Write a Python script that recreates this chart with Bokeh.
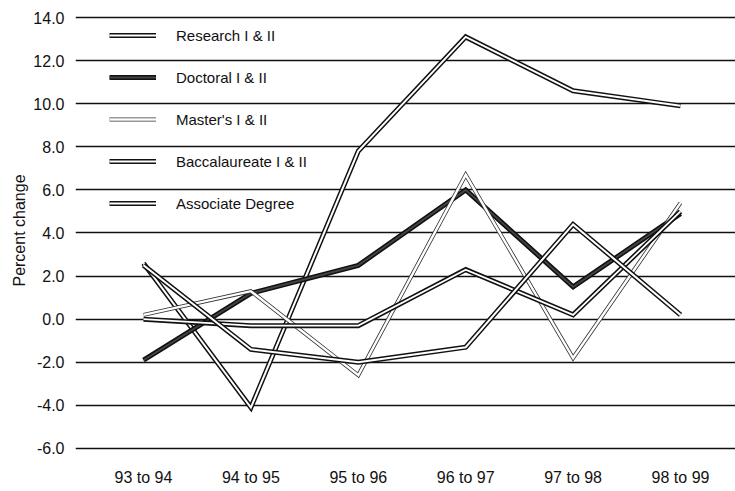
from bokeh.plotting import figure
from bokeh.models import Range1d, FixedTicker, Legend, LegendItem
from bokeh.embed import file_html
from bokeh.resources import INLINE

periods = ["93 to 94", "94 to 95", "95 to 96", "96 to 97", "97 to 98", "98 to 99"]
research = [2.6, -4.1, 7.8, 13.1, 10.6, 9.9]
doctoral = [-1.9, 1.2, 2.5, 6.0, 1.5, 4.9]
masters = [0.2, 1.3, -2.6, 6.7, -1.8, 5.4]
baccalaureate = [0.0, -0.3, -0.3, 2.3, 0.2, 5.0]
associate = [2.5, -1.4, -2.0, -1.3, 4.4, 0.2]
series_names = ["Research I & II", "Doctoral I & II", "Master's I & II",
                "Baccalaureate I & II", "Associate Degree"]
y_ticks = [-6, -4, -2, 0, 2, 4, 6, 8, 10, 12, 14]

FONT = "Liberation Sans"
xs = list(range(len(periods)))

p = figure(width=735, height=491, output_backend="svg", toolbar_location=None,
           x_range=Range1d(-0.633, 5.512), y_range=Range1d(-6.093, 14.325),
           min_border_left=75, min_border_right=0, min_border_top=10,
           min_border_bottom=41)
p.outline_line_color = None
p.background_fill_color = "white"

p.xgrid.grid_line_color = None
p.ygrid.grid_line_color = "#111111"
p.ygrid.grid_line_width = 1.6
p.ygrid.ticker = FixedTicker(ticks=y_ticks)

p.yaxis.ticker = FixedTicker(ticks=y_ticks)
p.yaxis.major_label_overrides = {t: f"{t:.1f}" for t in y_ticks}
p.yaxis.axis_line_color = None
p.yaxis.major_tick_line_color = None
p.yaxis.minor_tick_line_color = None
p.yaxis.major_label_standoff = 5
p.yaxis.major_label_text_font = FONT
p.yaxis.major_label_text_font_size = "16px"
p.yaxis.major_label_text_color = "#111111"
p.yaxis.axis_label = "Percent change"
p.yaxis.axis_label_text_font = FONT
p.yaxis.axis_label_text_font_size = "16px"
p.yaxis.axis_label_text_font_style = "normal"
p.yaxis.axis_label_text_color = "#111111"
p.yaxis.axis_label_standoff = 2

p.xaxis.ticker = FixedTicker(ticks=xs)
p.xaxis.major_label_overrides = {i: lab for i, lab in zip(xs, periods)}
p.xaxis.axis_line_color = None
p.xaxis.major_tick_line_color = None
p.xaxis.minor_tick_line_color = None
p.xaxis.major_label_standoff = 12
p.xaxis.major_label_text_font = FONT
p.xaxis.major_label_text_font_size = "16px"
p.xaxis.major_label_text_color = "#111111"

styles = [
    ("#111111", 5.0, "white", 2.0),
    ("#111111", 5.0, "#444444", 1.8),
    ("#333333", 4.0, "white", 2.4),
    ("#111111", 5.0, "white", 1.8),
    ("#111111", 5.0, "white", 2.0),
]
all_series = [research, doctoral, masters, baccalaureate, associate]

items = []
for name, vals, (oc, ow, ic, iw) in zip(series_names, all_series, styles):
    r1 = p.line(xs, vals, line_color=oc, line_width=ow, line_join="miter")
    r2 = p.line(xs, vals, line_color=ic, line_width=iw, line_join="miter")
    items.append(LegendItem(label=name, renderers=[r1, r2]))

legend = Legend(items=items, location=(34, 237), orientation="vertical")
legend.border_line_color = None
legend.background_fill_alpha = 0
legend.padding = 0
legend.margin = 0
legend.glyph_width = 47
legend.glyph_height = 20
legend.label_height = 20
legend.spacing = 22
legend.label_standoff = 20
legend.label_text_font = FONT
legend.label_text_font_size = "15px"
legend.label_text_color = "#111111"
p.add_layout(legend, "center")

open("out.html", "w").write(file_html(p, INLINE))
